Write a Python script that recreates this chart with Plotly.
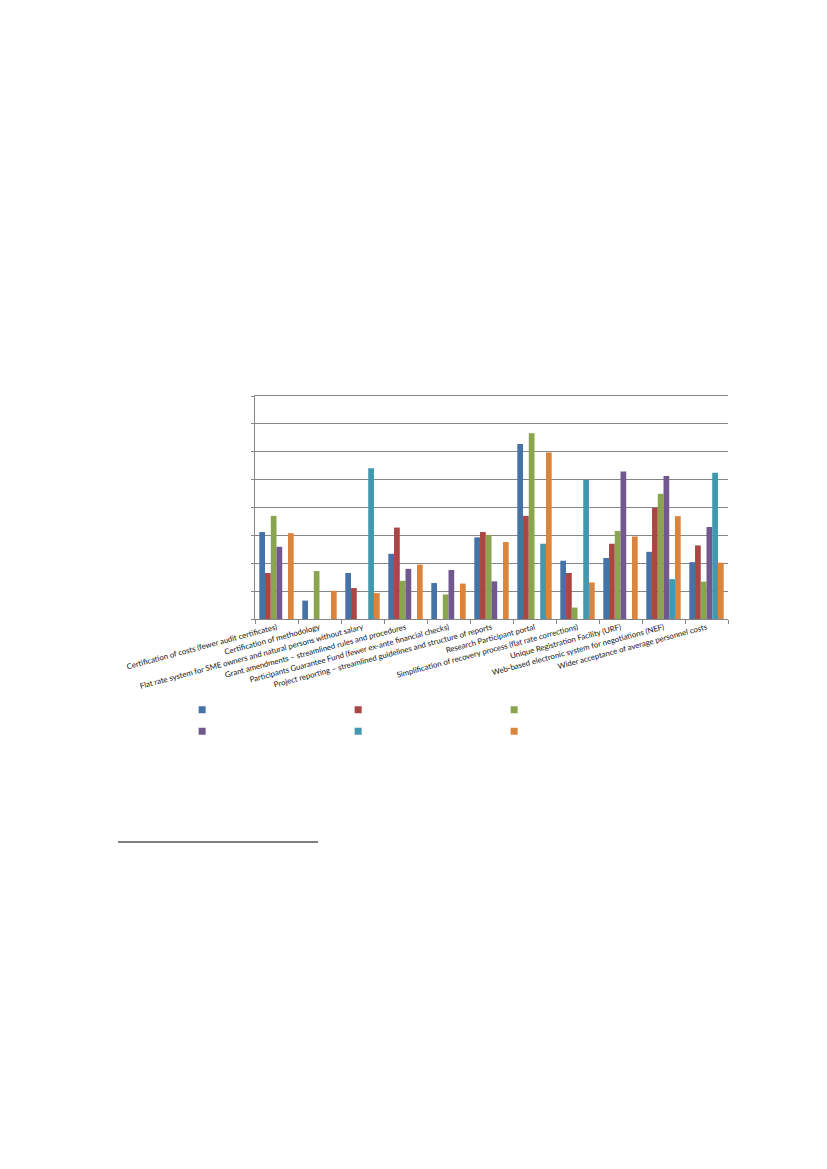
"""Grouped bar chart: simplification measures, six series (legend labels blank)."""
import plotly.graph_objects as go

CATEGORIES = [
    "Certification of costs (fewer audit certificates)",
    "Certification of methodology",
    "Flat rate system for SME owners and natural persons without salary",
    "Grant amendments \u2013 streamlined rules and procedures",
    "Participants Guarantee Fund (fewer ex-ante financial checks)",
    "Project reporting \u2013 streamlined guidelines and structure of reports",
    "Research Participant portal",
    "Simplification of recovery process (flat rate corrections)",
    "Unique Registration Facility (URF)",
    "Web-based electronic system for negotiations (NEF)",
    "Wider acceptance of average personnel costs",
]

# legend text is empty in the source, so the names are blank
SERIES_NAMES = [" ", " ", " ", " ", " ", " "]
SERIES_COLORS = ["#4572A7", "#AA4643", "#89A54E", "#71588F", "#4198AF", "#DB843D"]

SERIES_1 = [3.12, 0.66, 1.65, 2.34, 1.29, 2.93, 6.28, 2.09, 2.19, 2.41, 2.04]
SERIES_2 = [1.65, None, 1.11, 3.28, None, 3.12, 3.70, 1.65, 2.70, 3.99, 2.64]
SERIES_3 = [3.70, 1.72, None, 1.37, 0.88, 3.02, 6.66, 0.41, 3.16, 4.49, 1.34]
SERIES_4 = [2.59, None, None, 1.80, 1.76, 1.35, None, None, 5.29, 5.13, 3.30]
SERIES_5 = [None, None, 5.41, None, None, None, 2.70, 4.99, None, 1.43, 5.25]
SERIES_6 = [3.08, 1.01, 0.93, 1.95, 1.27, 2.76, 5.97, 1.31, 2.96, 3.69, 2.02]

ALL_SERIES = [SERIES_1, SERIES_2, SERIES_3, SERIES_4, SERIES_5, SERIES_6]

GRID = "#868686"

fig = go.Figure()

for values, color in zip(ALL_SERIES, SERIES_COLORS):
    fig.add_trace(go.Bar(
        x=CATEGORIES,
        y=values,
        marker=dict(color=color, line=dict(width=0)),
        showlegend=False,
    ))

# legend swatches: two rows of three, drawn as dummy square markers
for i, (name, color) in enumerate(zip(SERIES_NAMES, SERIES_COLORS)):
    fig.add_trace(go.Scatter(
        x=[None],
        y=[None],
        mode="markers",
        name=name,
        marker=dict(symbol="square", size=7, color=color),
        legend="legend" if i < 3 else "legend2",
        showlegend=True,
    ))

legend_common = dict(
    orientation="h",
    xanchor="left",
    yanchor="middle",
    entrywidth=111,
    entrywidthmode="pixels",
    font=dict(size=8, color="#000000"),
    bgcolor="rgba(0,0,0,0)",
    borderwidth=0,
)

# page body adds an 8px offset, so margins are shifted by that much
fig.update_layout(
    width=827,
    height=1169,
    margin=dict(l=247, r=107, t=388, b=558),
    paper_bgcolor="white",
    plot_bgcolor="white",
    barmode="group",
    bargap=0.2,
    bargroupgap=0,
    font=dict(family="Lato, Calibri, sans-serif", size=7.8, color="#000000"),
    xaxis=dict(
        type="category",
        tickangle=-15,
        tickson="boundaries",
        ticks="outside",
        ticklen=4,
        tickcolor=GRID,
        showline=True,
        mirror=True,
        linecolor=GRID,
        linewidth=1,
        showgrid=False,
        tickfont=dict(size=7.8, color="#111111"),
    ),
    yaxis=dict(
        range=[0, 8],
        dtick=1,
        showticklabels=False,
        ticks="outside",
        ticklen=3,
        tickcolor=GRID,
        showline=True,
        linecolor=GRID,
        linewidth=1,
        showgrid=True,
        gridcolor=GRID,
        gridwidth=1,
        zeroline=False,
    ),
    legend=dict(x=-0.154, y=-0.4067, **legend_common),
    legend2=dict(x=-0.154, y=-0.5036, **legend_common),
    shapes=[
        # footnote separator below the chart
        dict(
            type="line", xref="paper", yref="paper",
            x0=-0.2896, x1=0.1332, y0=-1.0, y1=-1.0,
            line=dict(color="#000000", width=1.2),
        ),
    ],
)

fig.write_html("out.html")
